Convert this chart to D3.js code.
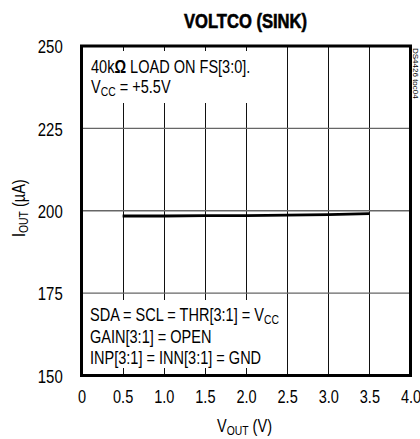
<!DOCTYPE html>
<html><head><meta charset="utf-8">
<script src="https://cdn.jsdelivr.net/npm/d3@7"></script>
<style>
html,body{margin:0;padding:0;background:#fff;}
svg{display:block;}
text{font-family:"Liberation Sans",Arial,sans-serif;fill:#000;}
</style></head>
<body><svg id="c" width="420" height="439"></svg>
<script>
// ---- data ----
const vout = [0.5, 1.0, 1.5, 2.0, 2.5, 3.0, 3.5];
const iout = [198.4, 198.4, 198.5, 198.55, 198.7, 198.85, 199.15];
const xTicks = [0, 0.5, 1.0, 1.5, 2.0, 2.5, 3.0, 3.5, 4.0];
const xTickLabels = ["0", "0.5", "1.0", "1.5", "2.0", "2.5", "3.0", "3.5", "4.0"];
const yTicks = [150, 175, 200, 225, 250];
const yTickLabels = ["150", "175", "200", "225", "250"];
const xGrid = [0.5, 1.0, 1.5, 2.0, 2.5, 3.0, 3.5];
const yGrid = [175, 200, 225];

const SX = 0.83; // narrow font emulation
const svg = d3.select("#c");
const x = d3.scaleLinear().domain([0, 4]).range([81.5, 410.5]);
const y = d3.scaleLinear().domain([150, 250]).range([375.5, 46]);

// gridlines
svg.append("g").selectAll("line").data(xGrid).join("line")
  .attr("x1", d => Math.round(x(d)) + 0.5).attr("x2", d => Math.round(x(d)) + 0.5)
  .attr("y1", y(250)).attr("y2", y(150))
  .attr("stroke", "#111").attr("stroke-width", 1);
svg.append("g").selectAll("line").data(yGrid).join("line")
  .attr("x1", x(0)).attr("x2", x(4))
  .attr("y1", d => y(d)).attr("y2", d => y(d))
  .attr("stroke", "#666").attr("stroke-width", 1.4);

// white label boxes
svg.append("rect").attr("x", x(0) + 1.5).attr("y", 51).attr("width", 184).attr("height", 52).attr("fill", "#fff");
svg.append("rect").attr("x", x(0) + 1.5).attr("y", 300).attr("width", 200).attr("height", 68).attr("fill", "#fff");

// data line
const line = d3.line().x(d => x(d[0])).y(d => y(d[1]));
svg.append("path").datum(vout.map((v, i) => [v, iout[i]]))
  .attr("d", line).attr("fill", "none").attr("stroke", "#000").attr("stroke-width", 2.8);

// frame
svg.append("rect").attr("x", x(0)).attr("y", y(250)).attr("width", x(4) - x(0)).attr("height", y(150) - y(250))
  .attr("fill", "none").attr("stroke", "#000").attr("stroke-width", 3);

// axes (labels only)
const xa = svg.append("g").attr("transform", `translate(0,${y(150)})`)
  .call(d3.axisBottom(x).tickValues(xTicks).tickFormat((d, i) => xTickLabels[i]).tickSize(0).tickPadding(15));
xa.select(".domain").remove();
xa.selectAll("text").attr("font-size", 17.5).attr("font-family", "Liberation Sans, Arial, sans-serif")
  .attr("fill", "#000").attr("transform", `scale(${SX},1)`);

const ya = svg.append("g").attr("transform", `translate(${x(0)},0)`)
  .call(d3.axisLeft(y).tickValues(yTicks).tickFormat((d, i) => yTickLabels[i]).tickSize(0).tickPadding(0));
ya.select(".domain").remove();
ya.selectAll("text").attr("font-size", 18).attr("font-family", "Liberation Sans, Arial, sans-serif")
  .attr("fill", "#000").attr("x", -18.8 / SX).attr("dy", "0.38em").attr("transform", `scale(${SX},1)`);

// helper for narrow text with subscript parts
function ntext(px, py, parts, opts = {}) {
  const g = svg.append("g").attr("transform", `translate(${px},${py}) ${opts.rot ? `rotate(${opts.rot})` : ""} scale(${opts.sx || SX},1)`);
  const t = g.append("text").attr("font-size", opts.fs || 17.5).attr("text-anchor", opts.anchor || "start");
  if (opts.weight) t.attr("font-weight", opts.weight);
  parts.forEach(p => {
    const s = t.append("tspan").text(p.t);
    if (p.sub) s.attr("font-size", opts.subfs || 12.5).attr("dy", 3);
    if (p.up) s.attr("dy", -3);
    if (p.bold) s.attr("font-weight", "bold");
  });
  return t;
}

// title
ntext(245.5, 27.5, [{t: "VOLTCO (SINK)"}], {fs: 19.5, sx: 0.85, anchor: "middle", weight: "bold"})
  .attr("stroke", "#000").attr("stroke-width", 0.6);

// axis titles
ntext(217, 431.5, [{t: "V"}, {t: "OUT", sub: true}, {t: " (V)", up: true}]);
ntext(25, 237, [{t: "I"}, {t: "OUT", sub: true}, {t: " (µA)", up: true}], {rot: -90});

// annotations top
ntext(91, 72.5, [{t: "40k"}, {t: "Ω", bold: true}, {t: " LOAD ON FS[3:0]."}]);
ntext(91, 93, [{t: "V"}, {t: "CC", sub: true}, {t: " = +5.5V", up: true}]);

// annotations bottom
ntext(90, 321, [{t: "SDA = SCL = THR[3:1] = V"}, {t: "CC", sub: true}]);
ntext(90, 342.5, [{t: "GAIN[3:1] = OPEN"}]);
ntext(90, 363.5, [{t: "INP[3:1] = INN[3:1] = GND"}]);

// side code
svg.append("text").attr("transform", "translate(412.5,48) rotate(90)")
  .attr("font-size", 8).attr("fill", "#777").text("DS4426 toc04");
</script></body></html>
